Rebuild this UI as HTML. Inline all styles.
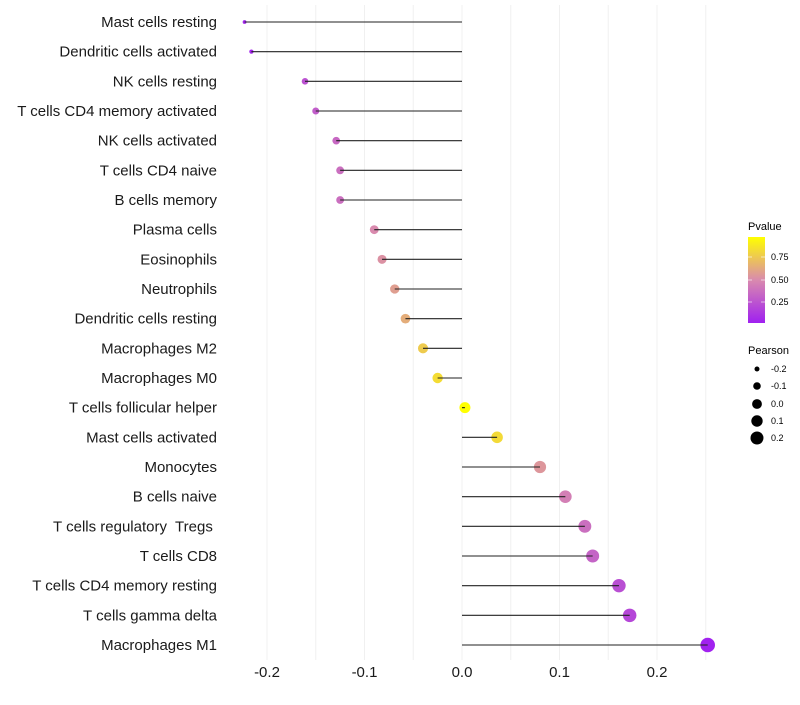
<!DOCTYPE html>
<html><head><meta charset="utf-8"><style>
body{margin:0;background:#fff;font-family:"Liberation Sans",sans-serif}
text{white-space:pre}
</style></head><body>
<svg id="chart" width="800" height="700" xmlns="http://www.w3.org/2000/svg" font-family="Liberation Sans, sans-serif">
<defs><linearGradient id="pg" x1="0" y1="1" x2="0" y2="0">
<stop offset="0" stop-color="#A020F0"/><stop offset="0.5" stop-color="#D98AAE"/><stop offset="1" stop-color="#FFFF00"/></linearGradient></defs>
<g id="grid"></g><g id="dots"></g><g id="marks"></g><g id="ylabels"></g><g id="xticks"></g>
<g>
<text x="748" y="230" font-size="11">Pvalue</text>
<rect x="748" y="237" width="17" height="86" fill="url(#pg)"/>
<line x1="748" y1="257" x2="752" y2="257" stroke="#fff" opacity="0.6"/><line x1="761" y1="257" x2="765" y2="257" stroke="#fff" opacity="0.6"/>
<line x1="748" y1="280" x2="752" y2="280" stroke="#fff" opacity="0.6"/><line x1="761" y1="280" x2="765" y2="280" stroke="#fff" opacity="0.6"/>
<line x1="748" y1="302" x2="752" y2="302" stroke="#fff" opacity="0.6"/><line x1="761" y1="302" x2="765" y2="302" stroke="#fff" opacity="0.6"/>
<text x="771" y="260" font-size="9">0.75</text><text x="771" y="283" font-size="9">0.50</text><text x="771" y="305" font-size="9">0.25</text>
</g>
<g>
<text x="748" y="354" font-size="11">Pearson</text>
<circle cx="757" cy="369" r="2.5"/><text x="771" y="372" font-size="9">-0.2</text>
<circle cx="757" cy="386" r="3.8"/><text x="771" y="389" font-size="9">-0.1</text>
<circle cx="757" cy="404" r="4.9"/><text x="771" y="407" font-size="9">0.0</text>
<circle cx="757" cy="421" r="5.7"/><text x="771" y="424" font-size="9">0.1</text>
<circle cx="757" cy="438" r="6.5"/><text x="771" y="441" font-size="9">0.2</text>
</g>
</svg>
<script>
const categories=["Mast cells resting","Dendritic cells activated","NK cells resting","T cells CD4 memory activated","NK cells activated","T cells CD4 naive","B cells memory","Plasma cells","Eosinophils","Neutrophils","Dendritic cells resting","Macrophages M2","Macrophages M0","T cells follicular helper","Mast cells activated","Monocytes","B cells naive","T cells regulatory  Tregs ","T cells CD8","T cells CD4 memory resting","T cells gamma delta","Macrophages M1"];
const pearson=[-0.223,-0.216,-0.161,-0.150,-0.129,-0.125,-0.125,-0.090,-0.082,-0.069,-0.058,-0.040,-0.025,0.003,0.036,0.080,0.106,0.126,0.134,0.161,0.172,0.252];
const pvalue=[0.05,0.06,0.25,0.3,0.35,0.38,0.38,0.5,0.53,0.58,0.64,0.76,0.83,0.99,0.82,0.55,0.45,0.38,0.33,0.24,0.2,0.04];
const xTicks=[-0.2,-0.1,0.0,0.1,0.2];
const xTickLabels=["-0.2","-0.1","0.0","0.1","0.2"];
const gridVals=[-0.2,-0.15,-0.1,-0.05,0,0.05,0.1,0.15,0.2,0.25];
const NS="http://www.w3.org/2000/svg";
const x=v=>462+v*975;
const y=i=>22+i*(623/21);
const r=v=>Math.sqrt(Math.max(3.5,v<0?30+118*v:30+92*v));
function lerp(a,b,t){return a.map((c,k)=>Math.round(c+(b[k]-c)*t));}
function col(p){const s=[[160,32,240],[217,138,174],[255,255,0]];const t=Math.max(0,Math.min(1,(p-0.03)/0.94));
const c=t<0.5?lerp(s[0],s[1],t*2):lerp(s[1],s[2],(t-0.5)*2);return `rgb(${c})`;}
function mk(tag,at,parent){const e=document.createElementNS(NS,tag);for(const k in at)e.setAttribute(k,at[k]);document.getElementById(parent).appendChild(e);return e;}
gridVals.forEach(v=>{const l=mk("line",{x1:x(v),x2:x(v),y1:5,y2:660,stroke:"#f0f0f0","stroke-width":1},"grid");

});
categories.forEach((c,i)=>{
const d=mk("circle",{cx:x(pearson[i]),cy:y(i),r:r(pearson[i]),fill:col(pvalue[i])},"dots");


const s=mk("line",{x1:x(0),x2:x(pearson[i]),y1:y(i),y2:y(i),stroke:"#222","stroke-width":1.1},"marks");


const t=mk("text",{x:217,y:y(i)+5,"text-anchor":"end","font-size":15,fill:"#1a1a1a"},"ylabels");
t.textContent=c;


});
xTicks.forEach((v,i)=>{const t=mk("text",{x:x(v),y:677,"text-anchor":"middle","font-size":15,fill:"#1a1a1a"},"xticks");
t.textContent=xTickLabels[i];

});
</script>
</body></html>
